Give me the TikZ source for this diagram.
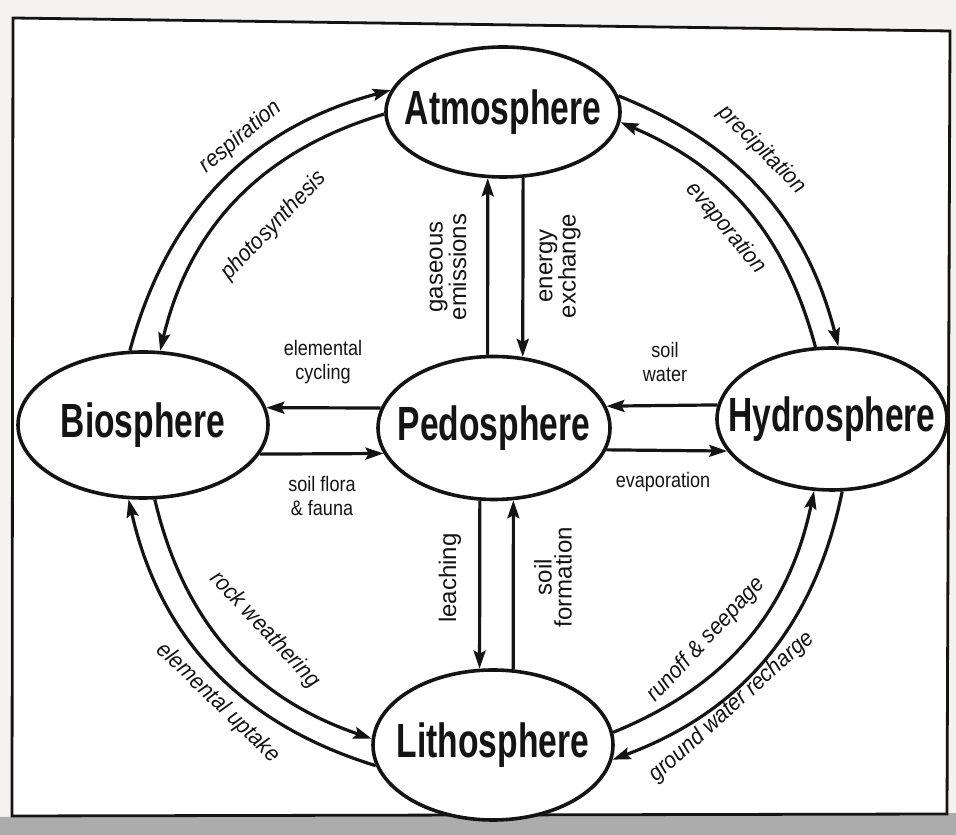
\documentclass[tikz,border=0pt]{standalone}
\usepackage{fontspec}
\setmainfont{Liberation Sans}
\newfontfamily\bigfont[FakeStretch=0.70]{Liberation Sans}
\newfontfamily\labfont[FakeStretch=0.86]{Liberation Sans}
\newfontfamily\arcfont[FakeStretch=0.92]{Liberation Sans}
\newfontfamily\vfont{Liberation Sans}
\usetikzlibrary{shapes.geometric,arrows.meta}
\definecolor{pagebg}{HTML}{F5F2F2}
\definecolor{inkc}{HTML}{141414}
\tikzset{
  sphere/.style={draw=inkc, ellipse, line width=3.6pt, inner sep=0pt, fill=white,
    text=inkc, font=\bigfont\bfseries\fontsize{48}{50}\selectfont},
  flow/.style={draw=inkc, line width=3.2pt, -{Stealth[length=18pt,width=12pt,inset=3pt]}},
  hlab/.style={text=inkc, align=center, inner sep=0pt, font=\labfont\fontsize{21}{24}\selectfont},
  vlab/.style={text=inkc, align=center, inner sep=0pt, rotate=90, font=\vfont\fontsize{24}{20}\selectfont},
  alab/.style={text=inkc, inner sep=0pt, font=\arcfont\itshape\fontsize{23}{25}\selectfont}
}
\begin{document}
\begin{tikzpicture}[x=1pt,y=1pt]
\useasboundingbox (0,0) rectangle (956,835);
\fill[pagebg] (0,0) rectangle (956,835);
\fill[gray!65] (0,0) -- (956,0) -- (956,22) -- (0,18) -- cycle;
\draw[inkc, line width=2.8pt, fill=white] (13,817) -- (950,804) -- (947,21) -- (12,19) -- cycle;

% spheres
\node[sphere, minimum width=234, minimum height=130] (atm) at (503,723) {\makebox[0pt]{Atmosphere}};
\node[sphere, minimum width=250, minimum height=146] (bio) at (143,410) {\makebox[0pt]{Biosphere}};
\node[sphere, minimum width=232, minimum height=143] (ped) at (494,407) {\makebox[0pt]{Pedosphere}};
\node[sphere, minimum width=230, minimum height=142] (hyd) at (832,416) {\makebox[0pt]{Hydrosphere}};
\node[sphere, minimum width=240, minimum height=150] (lit) at (493,90) {\makebox[0pt]{Lithosphere}};

% outer ring arcs
\draw[flow] (bio.100) to[bend left=30] (atm.169);
\draw[flow] (atm.181) to[bend right=30] (bio.77);
\draw[flow] (atm.8) to[bend left=27] (hyd.85);
\draw[flow] (hyd.103) to[bend right=26] (atm.355);
\draw[flow] (bio.279) to[bend right=29] (lit.177);
\draw[flow] (lit.190) to[bend left=30] (bio.259);
\draw[flow] (lit.6) to[bend right=28] (hyd.256);
\draw[flow] (hyd.278) to[bend left=29] (lit.353);

% straight arrows
\draw[flow] (ped.95) -- (atm.257);
\draw[flow] (atm.287) -- (ped.68);
\draw[flow] (ped.259) -- (lit.100);
\draw[flow] (lit.75) -- (ped.285);
\draw[flow] (ped.170) -- (bio.8);
\draw[flow] (bio.346) -- (ped.193);
\draw[flow] (hyd.173) -- (ped.11);
\draw[flow] (ped.349) -- (hyd.197);

% labels
\node[hlab] (lelem) at (323,473) {elemental\\cycling};
\node[hlab] (lflora) at (322,339) {soil flora\\\& fauna};
\node[hlab] (lsw) at (665,473) {soil\\water};
\node[hlab] (levh) at (663,353) {evaporation};
\node[vlab] (lgas) at (448,568) {gaseous\\emissions};
\node[vlab] (lene) at (560,569) {energy\\exchange};
\node[vlab] (lleach) at (450,257) {leaching};
\node[vlab] (lform) at (553,258) {soil\\formation};
\node[alab, rotate=40] (lresp) at (241,698) {respiration};
\node[alab, rotate=46] (lphot) at (274,609) {photosynthesis};
\node[alab, rotate=-45] (lprec) at (762,685) {precipitation};
\node[alab, rotate=-50] (levap) at (726,607) {evaporation};
\node[alab, rotate=-47] (lrock) at (265,205) {rock weathering};
\node[alab, rotate=-44] (lupt) at (218,132) {elemental uptake};
\node[alab, rotate=47] (lrun) at (706,195) {runoff \& seepage};
\node[alab, rotate=42] (lgw) at (732,128) {ground water recharge};
\end{tikzpicture}
\end{document}
